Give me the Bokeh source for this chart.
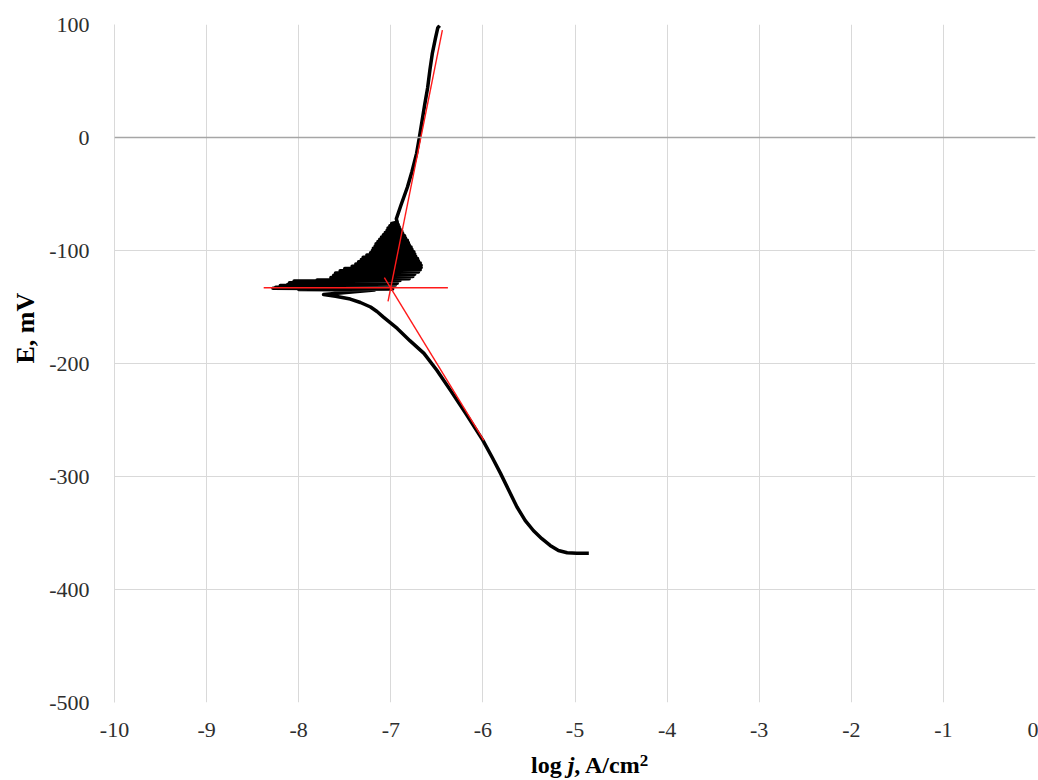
from bokeh.plotting import figure
from bokeh.models import (Range1d, FixedTicker, Span, ColumnDataSource, Title,
                          PrintfTickFormatter, Div)
from bokeh.layouts import column
from bokeh.embed import file_html
from bokeh.resources import INLINE

# ---- data ----
# cathodic branch (scan order: from most negative potential upward)
cath_logj = [-4.85, -4.98, -5.085, -5.18, -5.27, -5.36, -5.45, -5.54, -5.63, -5.81,
             -5.90, -6.0, -6.18, -6.35, -6.50, -6.64, -6.79, -6.93, -7.08, -7.15,
             -7.22, -7.33, -7.44, -7.6, -7.73]
cath_E = [-368, -368, -367.5, -365.5, -361, -355, -348, -339, -327, -297,
          -283, -268, -245, -224, -206, -191, -180, -169, -159, -154,
          -150, -146, -143, -140.5, -139]

# noisy region around the corrosion potential
noise_E = [-135, -134.5, -134, -133.5, -133, -132.5, -132, -131, -130.5, -130,
           -129, -128.5, -128, -127, -126.5, -126, -125, -124, -123, -122,
           -121, -120, -119, -118, -117, -116, -115, -114, -113, -112,
           -111, -110, -109, -108, -107, -106, -105, -104, -103, -102,
           -101, -100, -99, -98, -97, -96, -95, -94, -93, -92,
           -91, -90, -89, -88, -87, -86, -85, -84, -83, -82,
           -81, -80, -79, -78, -77, -76, -75]
noise_logj = [-7.18, -8.0, -6.98, -8.28, -7.0, -8.25, -6.97, -8.2, -6.95, -8.12,
              -6.93, -8.1, -6.95, -8.05, -6.9, -7.8, -6.8, -7.65, -6.76, -7.62,
              -6.74, -7.6, -6.7, -7.55, -6.68, -7.5, -6.67, -7.42, -6.67, -7.38,
              -6.68, -7.35, -6.7, -7.32, -6.71, -7.3, -6.73, -7.26, -6.74, -7.22,
              -6.75, -7.2, -6.77, -7.19, -6.78, -7.17, -6.8, -7.16, -6.81, -7.14,
              -6.82, -7.12, -6.84, -7.1, -6.85, -7.08, -6.87, -7.06, -6.88, -7.04,
              -6.9, -7.03, -6.91, -7.01, -6.92, -6.99, -6.93]

# anodic branch
anod_E = [-72, -60, -44, -30, -14, 0, 15, 30, 44, 60, 74, 88, 97, 99]
anod_logj = [-6.94, -6.89, -6.82, -6.77, -6.72, -6.69, -6.66, -6.63, -6.60,
             -6.575, -6.55, -6.515, -6.49, -6.47]

# Tafel construction lines (red)
tafel_h_logj = [-8.38, -6.38]
tafel_h_E = [-133, -133]
tafel_a_logj = [-7.03, -6.44]
tafel_a_E = [-145, 95]
tafel_c_logj = [-7.07, -5.99]
tafel_c_E = [-124, -268]

x_ticks = [-10, -9, -8, -7, -6, -5, -4, -3, -2, -1, 0]
y_ticks = [-500, -400, -300, -200, -100, 0, 100]

# ---- figure ----
SERIF = "Liberation Serif"

p = figure(width=1038, height=744,
           x_range=Range1d(-10, 0), y_range=Range1d(-500, 100),
           output_backend="svg", toolbar_location=None,
           min_border_left=114, min_border_right=3,
           min_border_top=24, min_border_bottom=42)
p.outline_line_color = None
p.background_fill_color = "white"

grid_col = "#d9d9d9"
p.xaxis.ticker = FixedTicker(ticks=x_ticks)
p.yaxis.ticker = FixedTicker(ticks=y_ticks)
for ax in (p.xaxis, p.yaxis):
    ax.formatter = PrintfTickFormatter(format="%d")
    ax.major_tick_line_color = None
    ax.minor_tick_line_color = None
    ax.major_label_text_font = SERIF
    ax.major_label_text_font_size = "22px"
    ax.major_label_text_color = "#2e2e2e"
p.xaxis.axis_line_color = None
p.yaxis.axis_line_color = grid_col
p.xaxis.major_label_standoff = 14
p.yaxis.major_label_standoff = 19

p.xgrid.ticker = FixedTicker(ticks=x_ticks)
p.ygrid.ticker = FixedTicker(ticks=y_ticks)
p.xgrid.grid_line_color = grid_col
p.ygrid.grid_line_color = grid_col

# horizontal axis line crossing at 0
p.add_layout(Span(location=0, dimension="width", line_color="#a6a6a6", line_width=1.5))

# polarization curve
curve_x = cath_logj + noise_logj + anod_logj
curve_y = cath_E + noise_E + anod_E
src = ColumnDataSource(dict(x=curve_x, y=curve_y))
p.line("x", "y", source=src, line_color="black", line_width=3.5, line_join="round")

# Tafel lines
for xs, ys in ((tafel_h_logj, tafel_h_E), (tafel_a_logj, tafel_a_E), (tafel_c_logj, tafel_c_E)):
    p.line(xs, ys, line_color="#ff1a1a", line_width=1.4)

# y axis title (shifted upward like the reference)
p.add_layout(Title(text="E, mV", align="left", offset=339, standoff=10,
                   vertical_align="top",
                   text_font=SERIF, text_font_style="bold", text_font_size="26px",
                   text_color="black"), "left")

# x axis title with italic j
xtitle = Div(
    text=('<div style="margin-left:526px;padding-top:2px;'
          "font-family:'Liberation Serif',serif;font-weight:bold;font-size:24px;"
          'line-height:28px;color:black;white-space:nowrap">'
          'log <i>j</i>, A/cm<sup style="font-size:17px;line-height:0;vertical-align:7px">2</sup></div>'),
    width=1038, height=36)

layout = column(p, xtitle, spacing=0)
open("out.html", "w").write(file_html(layout, INLINE))
